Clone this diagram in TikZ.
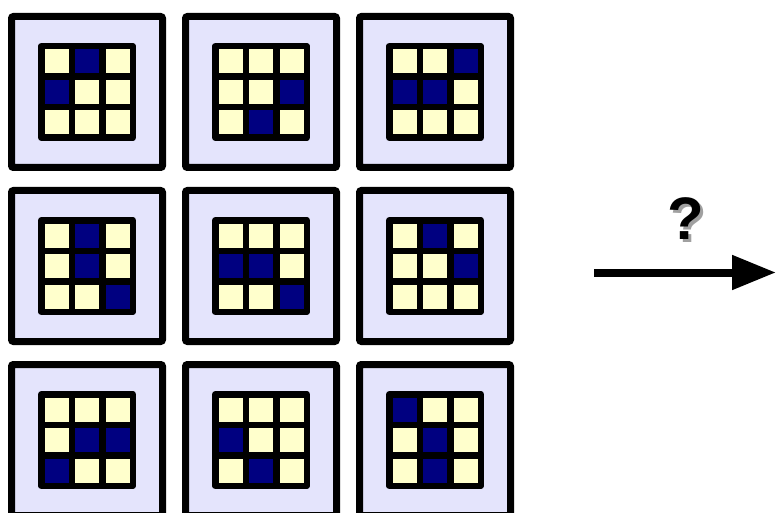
\documentclass[tikz,border=0pt]{standalone}
\usepackage{fontspec}
\setmainfont{Liberation Sans}
\usetikzlibrary{arrows.meta,calc}
\definecolor{lav}{HTML}{E4E4FC}
\definecolor{cy}{HTML}{FFFFCC}
\definecolor{cn}{HTML}{000080}
\definecolor{shad}{HTML}{A0A0A0}
\tikzset{
  tile/.style={draw=black, fill=lav, line width=7pt, minimum size=151pt, inner sep=0pt, outer sep=0pt, rounded corners=2pt},
  cellbox/.style={draw=black, line width=6.5pt, minimum size=30.5pt, inner sep=0pt, outer sep=0pt, line join=round},
  qmark/.style={inner sep=0pt, font=\fontsize{60}{60}\selectfont\bfseries},
  bigarrow/.style={line width=8pt, -{Triangle[length=44pt,width=33pt]}}
}
\newcommand{\mytile}[4]{%
  \node[tile] (#1) at (#2,#3) {};
  \foreach \v [count=\k from 0] in {#4} {
    \pgfmathtruncatemacro{\r}{int(\k/3)}
    \pgfmathtruncatemacro{\c}{mod(\k,3)}
    \ifnum\v=1 \def\cc{cn}\else\def\cc{cy}\fi
    \node[cellbox, fill=\cc] (#1c\k) at ($(#1)+(\c*30.5-30.5,\r*30.5-30.5)$) {};
  }
}
\begin{document}
\begin{tikzpicture}[x=1pt,y=-1pt]
\useasboundingbox (0,0) rectangle (776,513);
\mytile{t1}{87}{92}{0,1,0, 1,0,0, 0,0,0}
\mytile{t2}{261}{92}{0,0,0, 0,0,1, 0,1,0}
\mytile{t3}{435}{92}{0,0,1, 1,1,0, 0,0,0}
\mytile{t4}{87}{266}{0,1,0, 0,1,0, 0,0,1}
\mytile{t5}{261}{266}{0,0,0, 1,1,0, 0,0,1}
\mytile{t6}{435}{266}{0,1,0, 0,0,1, 0,0,0}
\mytile{t7}{87}{440}{0,0,0, 0,1,1, 1,0,0}
\mytile{t8}{261}{440}{0,0,0, 1,0,0, 0,1,0}
\mytile{t9}{435}{440}{1,0,0, 0,1,0, 0,1,0}
\coordinate (as) at (594,272.5);
\coordinate (ae) at (776,272.5);
\draw[bigarrow] (as) -- (ae);
\node[qmark, anchor=north west] (q) at (667,197) {\makebox[0pt][l]{\hspace{3pt}\raisebox{-3pt}{\textcolor{shad}{?}}}?};
\end{tikzpicture}
\end{document}
